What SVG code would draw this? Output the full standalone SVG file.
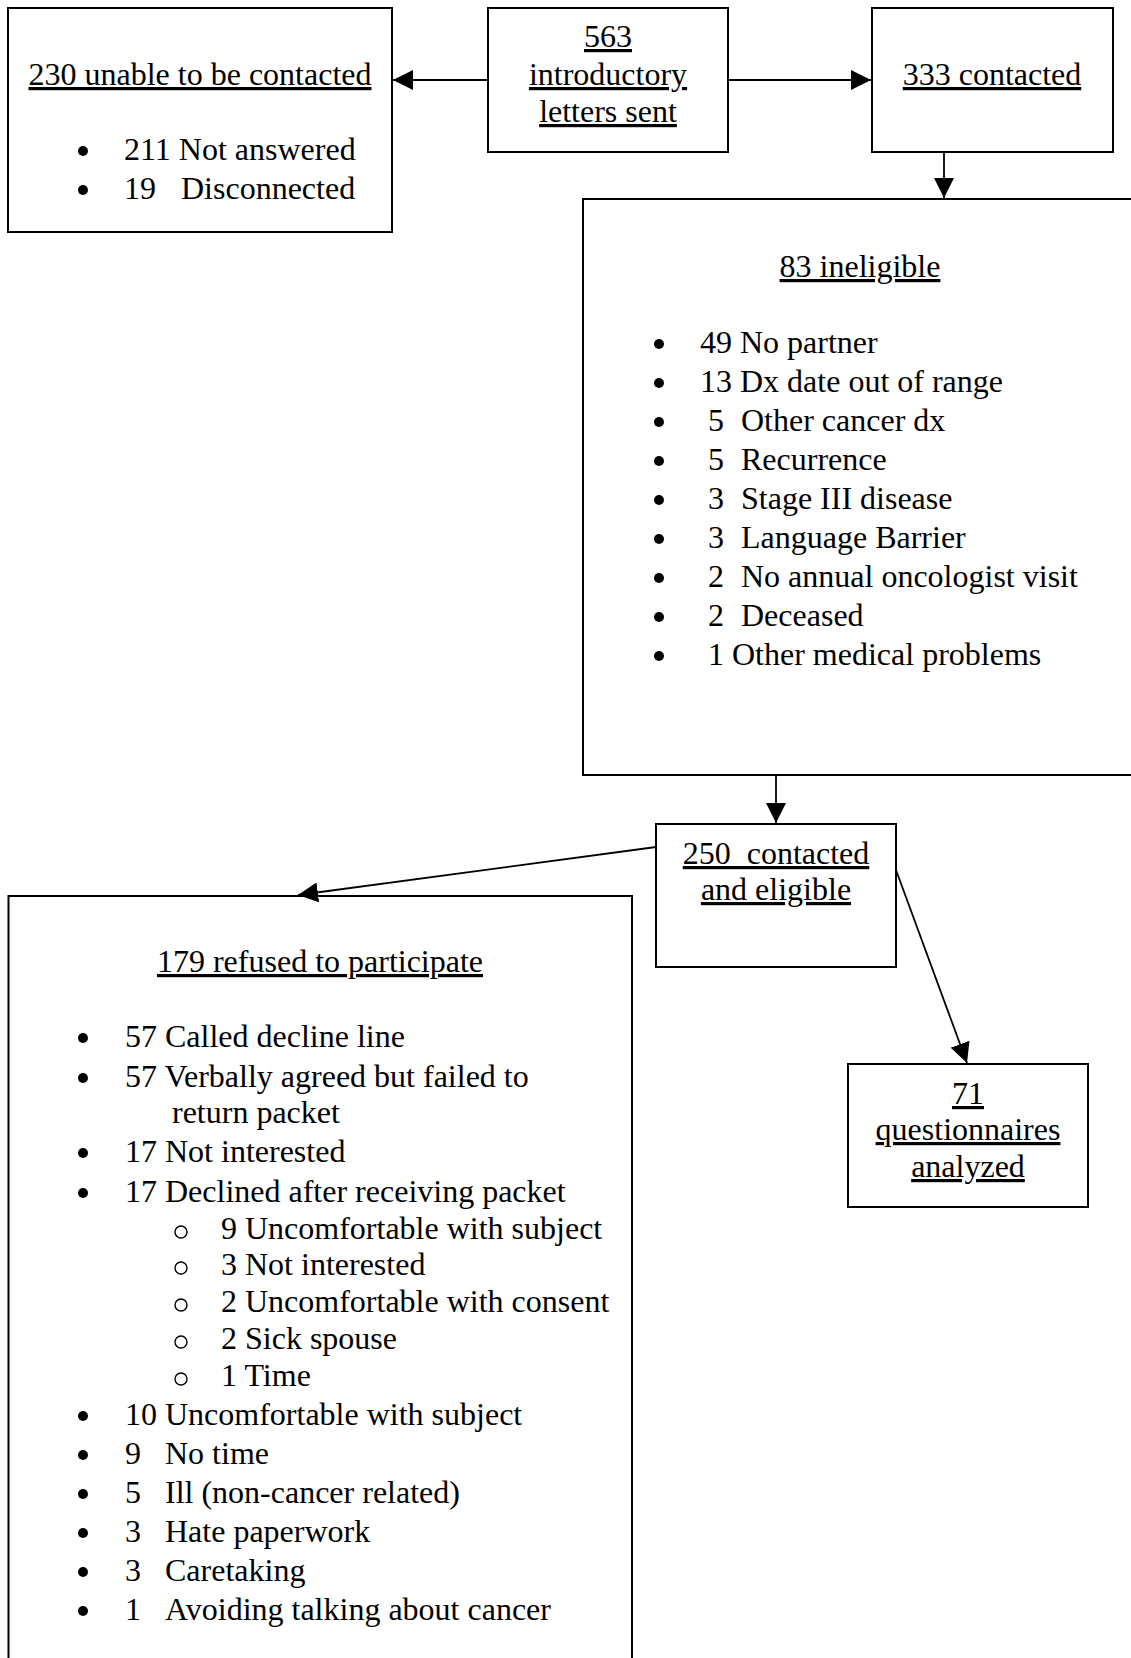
<svg xmlns="http://www.w3.org/2000/svg" width="1131" height="1658" viewBox="0 0 1131 1658">
<style>
  .box { fill: #ffffff; stroke: #000000; stroke-width: 2; }
  .t { font-family: "Liberation Serif", "Times New Roman", serif; font-size: 32px; fill: #000000; }
  .c { text-anchor: middle; }
  .u { text-decoration: underline; }
  .conn { stroke: #000000; stroke-width: 1.8; fill: none; marker-end: url(#ah); }
  .dot { fill: #000000; }
  .ring { fill: none; stroke: #000000; stroke-width: 1.4; }
</style>
<defs>
  <marker id="ah" markerUnits="userSpaceOnUse" markerWidth="20" markerHeight="20" viewBox="0 0 20 20" refX="20" refY="10" orient="auto">
    <path d="M0,0 L20,10 L0,20 z" fill="#000000"/>
  </marker>
  <circle id="bul" r="5" class="dot"/>
  <circle id="sub" r="6" class="ring"/>
</defs>
<rect width="1131" height="1658" fill="#ffffff"/>

<g id="node-unable">
  <rect class="box" x="8" y="8" width="384" height="224"/>
  <text class="t c u" x="200" y="85">230 unable to be contacted</text>
  <use href="#bul" x="83" y="151"/>
  <text class="t" x="124" y="160">211 Not answered</text>
  <use href="#bul" x="83" y="190"/>
  <text class="t" x="124" y="199">19</text>
  <text class="t" x="181" y="199">Disconnected</text>
</g>

<g id="node-letters">
  <rect class="box" x="488" y="8" width="240" height="144"/>
  <text class="t c u" x="608" y="47">563</text>
  <text class="t c u" x="608" y="85">introductory</text>
  <text class="t c u" x="608" y="122">letters sent</text>
</g>

<g id="node-contacted">
  <rect class="box" x="872" y="8" width="241" height="144"/>
  <text class="t c u" x="992" y="85">333 contacted</text>
</g>

<g id="node-ineligible">
  <rect class="box" x="583" y="199" width="556" height="576"/>
  <text class="t c u" x="860" y="277">83 ineligible</text>
  <use href="#bul" x="659" y="344"/>
  <text class="t" x="700" y="353">49 No partner</text>
  <use href="#bul" x="659" y="383"/>
  <text class="t" x="700" y="392">13 Dx date out of range</text>
  <use href="#bul" x="659" y="422"/>
  <text class="t" x="708" y="431">5</text>
  <text class="t" x="741" y="431">Other cancer dx</text>
  <use href="#bul" x="659" y="461"/>
  <text class="t" x="708" y="470">5</text>
  <text class="t" x="741" y="470">Recurrence</text>
  <use href="#bul" x="659" y="500"/>
  <text class="t" x="708" y="509">3</text>
  <text class="t" x="741" y="509">Stage III disease</text>
  <use href="#bul" x="659" y="539"/>
  <text class="t" x="708" y="548">3</text>
  <text class="t" x="741" y="548">Language Barrier</text>
  <use href="#bul" x="659" y="578"/>
  <text class="t" x="708" y="587">2</text>
  <text class="t" x="741" y="587">No annual oncologist visit</text>
  <use href="#bul" x="659" y="617"/>
  <text class="t" x="708" y="626">2</text>
  <text class="t" x="741" y="626">Deceased</text>
  <use href="#bul" x="659" y="656"/>
  <text class="t" x="708" y="665">1 Other medical problems</text>
</g>

<g id="node-eligible">
  <rect class="box" x="656" y="824" width="240" height="143"/>
  <text class="t c u" x="776" y="864" xml:space="preserve">250  contacted</text>
  <text class="t c u" x="776" y="900">and eligible</text>
</g>

<g id="node-analyzed">
  <rect class="box" x="848" y="1064" width="240" height="143"/>
  <text class="t c u" x="968" y="1104">71</text>
  <text class="t c u" x="968" y="1140">questionnaires</text>
  <text class="t c u" x="968" y="1177">analyzed</text>
</g>

<g id="node-refused">
  <rect class="box" x="8.5" y="896" width="623.5" height="800"/>
  <text class="t c u" x="320" y="972">179 refused to participate</text>
  <use href="#bul" x="83" y="1038"/>
  <text class="t" x="125" y="1047">57 Called decline line</text>
  <use href="#bul" x="83" y="1078"/>
  <text class="t" x="125" y="1087">57 Verbally agreed but failed to</text>
  <text class="t" x="172" y="1123">return packet</text>
  <use href="#bul" x="83" y="1153"/>
  <text class="t" x="125" y="1162">17 Not interested</text>
  <use href="#bul" x="83" y="1193"/>
  <text class="t" x="125" y="1202">17 Declined after receiving packet</text>
  <use href="#sub" x="181" y="1232"/>
  <text class="t" x="221" y="1239">9 Uncomfortable with subject</text>
  <use href="#sub" x="181" y="1268"/>
  <text class="t" x="221" y="1275">3 Not interested</text>
  <use href="#sub" x="181" y="1305"/>
  <text class="t" x="221" y="1312">2 Uncomfortable with consent</text>
  <use href="#sub" x="181" y="1342"/>
  <text class="t" x="221" y="1349">2 Sick spouse</text>
  <use href="#sub" x="181" y="1379"/>
  <text class="t" x="221" y="1386">1 Time</text>
  <use href="#bul" x="83" y="1416"/>
  <text class="t" x="125" y="1425">10 Uncomfortable with subject</text>
  <use href="#bul" x="83" y="1455"/>
  <text class="t" x="125" y="1464">9</text>
  <text class="t" x="165" y="1464">No time</text>
  <use href="#bul" x="83" y="1494"/>
  <text class="t" x="125" y="1503">5</text>
  <text class="t" x="165" y="1503">Ill (non-cancer related)</text>
  <use href="#bul" x="83" y="1533"/>
  <text class="t" x="125" y="1542">3</text>
  <text class="t" x="165" y="1542">Hate paperwork</text>
  <use href="#bul" x="83" y="1572"/>
  <text class="t" x="125" y="1581">3</text>
  <text class="t" x="165" y="1581">Caretaking</text>
  <use href="#bul" x="83" y="1611"/>
  <text class="t" x="125" y="1620">1</text>
  <text class="t" x="165" y="1620">Avoiding talking about cancer</text>
</g>

<g id="connectors">
  <line class="conn" x1="488" y1="80" x2="393" y2="80"/>
  <line class="conn" x1="728" y1="80" x2="871" y2="80"/>
  <line class="conn" x1="944" y1="152" x2="944" y2="198"/>
  <line class="conn" x1="776" y1="775" x2="776" y2="823"/>
  <line class="conn" x1="656" y1="847" x2="298" y2="895"/>
  <line class="conn" x1="896" y1="870" x2="967" y2="1063"/>
</g>
</svg>
